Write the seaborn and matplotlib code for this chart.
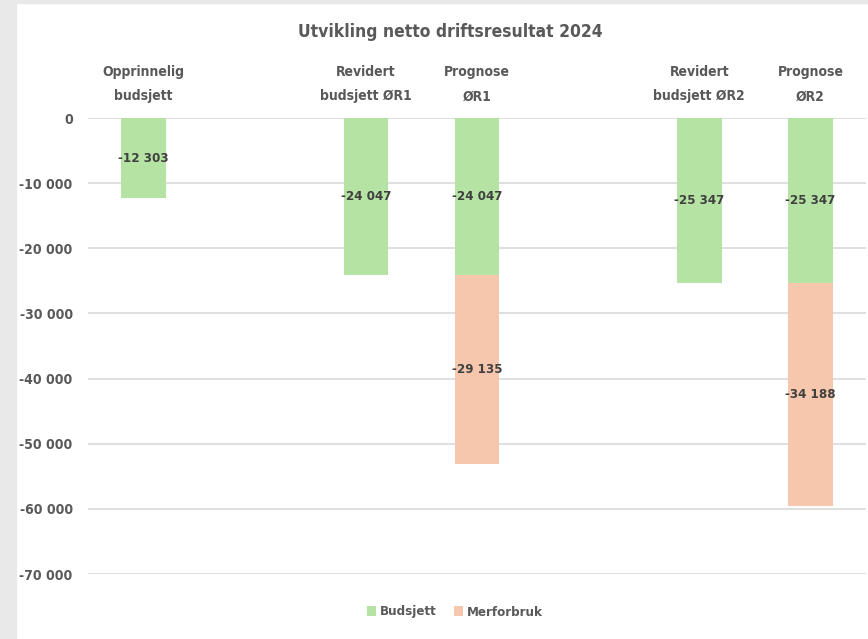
import seaborn as sns
import matplotlib.pyplot as plt
import pandas as pd
import numpy as np
from matplotlib.patches import Rectangle

categories = ["Opprinnelig\nbudsjett", " ", "Revidert\nbudsjett ØR1", "Prognose\nØR1",
              "  ", "Revidert\nbudsjett ØR2", "Prognose\nØR2"]
budsjett = [-12303, 0, -24047, -24047, 0, -25347, -25347]
merforbruk = [0, 0, 0, -29135, 0, 0, -34188]
yticks = [0, -10000, -20000, -30000, -40000, -50000, -60000, -70000]

df = pd.DataFrame({"Kategori": categories, "Budsjett": budsjett, "Merforbruk": merforbruk})
df["Total"] = df["Budsjett"] + df["Merforbruk"]

sns.set_style("white")
plt.rcParams['font.family'] = ['DejaVu Sans']
plt.rcParams['font.stretch'] = 'condensed'
txt = "#595959"
green = "#b5e3a3"
orange = "#f6c7ad"

fig = plt.figure(figsize=(8.68, 6.39), dpi=100)
fig.patch.set_facecolor("white")
# grey frame on left and top
fig.patches.append(Rectangle((0, 0), 16 / 868, 1, transform=fig.transFigure, color="#e9e9e9", zorder=-5))
fig.patches.append(Rectangle((0, 1 - 3 / 639), 1, 3 / 639, transform=fig.transFigure, color="#e9e9e9", zorder=-5))

ax = fig.add_axes([88 / 868, 1 - 574 / 639, (866 - 88) / 868, (574 - 118) / 639])

# stacked bars: total behind, budget in front
sns.barplot(data=df, x="Kategori", y="Total", order=categories, color=orange,
            width=0.4, saturation=1, ax=ax, label="Merforbruk", linewidth=0)
sns.barplot(data=df, x="Kategori", y="Budsjett", order=categories, color=green,
            width=0.4, saturation=1, ax=ax, label="Budsjett", linewidth=0)

def fmt(v):
    return f"{v:,.0f}".replace(",", " ")

for i in range(len(categories)):
    if budsjett[i] != 0:
        ax.text(i, budsjett[i] / 2, fmt(budsjett[i]), ha="center", va="center",
                fontsize=9.5, fontweight="bold", color="#404040")
    if merforbruk[i] != 0:
        ax.text(i, budsjett[i] + merforbruk[i] / 2, fmt(merforbruk[i]), ha="center", va="center",
                fontsize=9.5, fontweight="bold", color="#404040")

ax.set_ylim(-70000, 0)
ax.set_xlim(-0.5, len(categories) - 0.5)
ax.set_yticks(yticks)
ax.set_yticklabels([fmt(v) for v in yticks], fontsize=10, fontweight="bold", color=txt)
ax.yaxis.grid(True, color="#d9d9d9", linewidth=1.2)
ax.set_axisbelow(True)
ax.xaxis.tick_top()
ax.set_xticks(range(len(categories)))
ax.set_xticklabels(categories, fontsize=10, fontweight="bold", color=txt, linespacing=1.95)
ax.tick_params(axis="both", length=0)
ax.tick_params(axis="x", pad=10.5)
ax.tick_params(axis="y", pad=11)
ax.set_xlabel("")
ax.set_ylabel("")
for s in ax.spines.values():
    s.set_visible(False)

fig.text(450 / 868, 1 - 32 / 639, "Utvikling netto driftsresultat 2024", ha="center", va="center",
         fontsize=12.5, fontweight="bold", color=txt)

handles, labels = ax.get_legend_handles_labels()
order = [labels.index("Budsjett"), labels.index("Merforbruk")]
ax.legend([handles[k] for k in order], [labels[k] for k in order], loc="center",
          bbox_to_anchor=(455 / 868, 1 - 612 / 639), bbox_transform=fig.transFigure,
          ncol=2, frameon=False, handlelength=0.7, handleheight=0.7, handletextpad=0.3,
          columnspacing=1.3, prop={"weight": "bold", "size": 9.5}, labelcolor=txt)

plt.savefig("out.png", dpi=100)
